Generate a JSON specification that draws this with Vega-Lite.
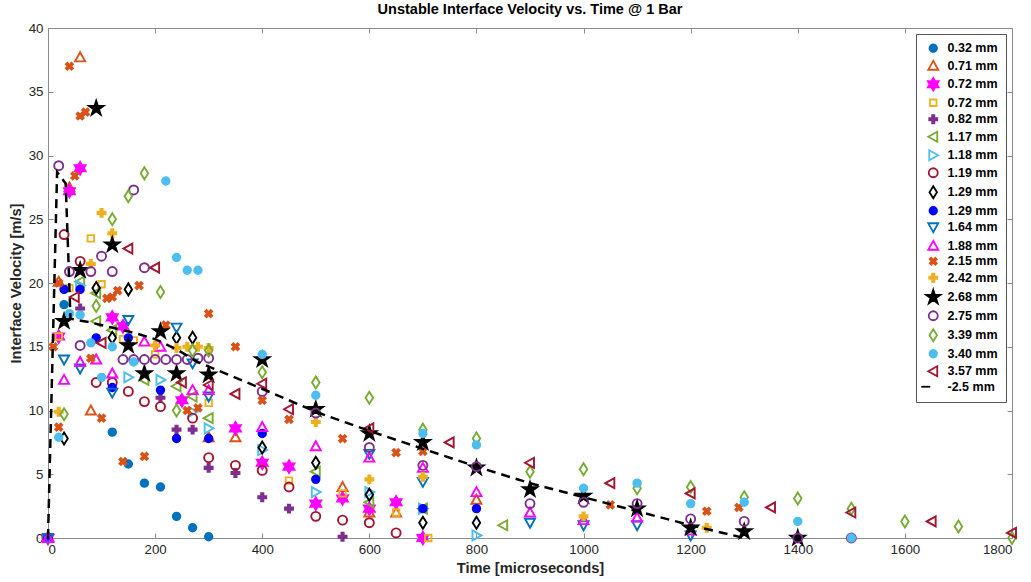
{
  "$schema": "https://vega.github.io/schema/vega-lite/v6.json",
  "width": 964,
  "height": 510,
  "autosize": {"type": "none"},
  "padding": {"left": 48, "top": 28, "right": 19, "bottom": 44},
  "background": "white",
  "title": {"text": "Unstable Interface Velocity vs. Time @ 1 Bar", "fontSize": 14.5, "fontWeight": "bold", "font": "Liberation Sans", "color": "#000000", "offset": 4},
  "datasets": {
    "pts": [
      {"s":"01","t":0,"v":0},{"s":"01","t":30,"v":18.3},{"s":"01","t":120,"v":8.3},{"s":"01","t":150,"v":5.8},{"s":"01","t":180,"v":4.3},{"s":"01","t":210,"v":4.0},{"s":"01","t":240,"v":1.7},{"s":"01","t":270,"v":0.8},{"s":"01","t":300,"v":0.1},
      {"s":"02","t":0,"v":0},{"s":"02","t":20,"v":20.1},{"s":"02","t":40,"v":27.5},{"s":"02","t":60,"v":37.7},{"s":"02","t":80,"v":10.0},{"s":"02","t":300,"v":7.9},{"s":"02","t":350,"v":7.9},{"s":"02","t":550,"v":4.0},{"s":"02","t":600,"v":2.0},{"s":"02","t":650,"v":2.0},{"s":"02","t":800,"v":3.0},
      {"s":"03","t":0,"v":0},{"s":"03","t":20,"v":15.8},{"s":"03","t":40,"v":27.2},{"s":"03","t":60,"v":29.0},{"s":"03","t":120,"v":17.3},{"s":"03","t":140,"v":16.6},{"s":"03","t":250,"v":10.8},{"s":"03","t":350,"v":8.6},{"s":"03","t":400,"v":5.9},{"s":"03","t":450,"v":5.6},{"s":"03","t":500,"v":2.7},{"s":"03","t":550,"v":3.1},{"s":"03","t":600,"v":2.3},{"s":"03","t":650,"v":2.8},{"s":"03","t":700,"v":0},
      {"s":"04","t":20,"v":15.8},{"s":"04","t":40,"v":19.6},{"s":"04","t":80,"v":23.5},{"s":"04","t":100,"v":19.9},{"s":"04","t":140,"v":15.6},{"s":"04","t":160,"v":15.5},{"s":"04","t":200,"v":14.4},{"s":"04","t":300,"v":10.6},{"s":"04","t":450,"v":4.5},{"s":"04","t":550,"v":3.5},{"s":"04","t":650,"v":2.0},{"s":"04","t":710,"v":0},
      {"s":"05","t":0,"v":0},{"s":"05","t":60,"v":18.0},{"s":"05","t":210,"v":11.0},{"s":"05","t":240,"v":8.5},{"s":"05","t":270,"v":8.5},{"s":"05","t":300,"v":5.5},{"s":"05","t":350,"v":5.1},{"s":"05","t":400,"v":3.2},{"s":"05","t":450,"v":2.3},{"s":"05","t":550,"v":0.1},
      {"s":"06","t":60,"v":20.1},{"s":"06","t":90,"v":19.2},{"s":"06","t":90,"v":17.0},{"s":"06","t":120,"v":16.3},{"s":"06","t":180,"v":12.4},{"s":"06","t":240,"v":11.9},{"s":"06","t":270,"v":11.1},{"s":"06","t":300,"v":9.4},{"s":"06","t":500,"v":5.2},{"s":"06","t":600,"v":2.8},{"s":"06","t":700,"v":2.3},{"s":"06","t":850,"v":1.0},
      {"s":"07","t":60,"v":19.8},{"s":"07","t":150,"v":12.6},{"s":"07","t":210,"v":12.4},{"s":"07","t":270,"v":9.9},{"s":"07","t":300,"v":8.6},{"s":"07","t":400,"v":6.9},{"s":"07","t":500,"v":3.6},{"s":"07","t":600,"v":3.6},{"s":"07","t":700,"v":2.3},{"s":"07","t":800,"v":0.2},
      {"s":"08","t":30,"v":23.8},{"s":"08","t":60,"v":21.7},{"s":"08","t":90,"v":12.2},{"s":"08","t":120,"v":12.2},{"s":"08","t":150,"v":11.5},{"s":"08","t":180,"v":10.7},{"s":"08","t":210,"v":10.3},{"s":"08","t":270,"v":9.4},{"s":"08","t":300,"v":6.3},{"s":"08","t":350,"v":5.7},{"s":"08","t":400,"v":5.3},{"s":"08","t":450,"v":4.0},{"s":"08","t":500,"v":1.7},{"s":"08","t":550,"v":1.4},{"s":"08","t":600,"v":1.2},{"s":"08","t":650,"v":0.4},
      {"s":"09","t":30,"v":7.8},{"s":"09","t":90,"v":19.6},{"s":"09","t":120,"v":15.7},{"s":"09","t":150,"v":19.5},{"s":"09","t":240,"v":15.7},{"s":"09","t":270,"v":15.7},{"s":"09","t":400,"v":7.1},{"s":"09","t":500,"v":5.9},{"s":"09","t":600,"v":3.4},{"s":"09","t":700,"v":1.2},{"s":"09","t":800,"v":1.2},
      {"s":"10","t":0,"v":0},{"s":"10","t":30,"v":19.5},{"s":"10","t":60,"v":19.5},{"s":"10","t":90,"v":15.7},{"s":"10","t":120,"v":11.8},{"s":"10","t":150,"v":15.7},{"s":"10","t":210,"v":11.6},{"s":"10","t":240,"v":7.8},{"s":"10","t":300,"v":7.8},{"s":"10","t":400,"v":8.2},{"s":"10","t":500,"v":4.6},{"s":"10","t":700,"v":2.3},{"s":"10","t":800,"v":2.3},
      {"s":"11","t":0,"v":0},{"s":"11","t":30,"v":14.0},{"s":"11","t":60,"v":13.3},{"s":"11","t":120,"v":11.4},{"s":"11","t":150,"v":17.1},{"s":"11","t":240,"v":16.5},{"s":"11","t":270,"v":13.7},{"s":"11","t":300,"v":11.1},{"s":"11","t":600,"v":6.6},{"s":"11","t":700,"v":4.4},{"s":"11","t":900,"v":1.2},{"s":"11","t":1000,"v":1.0},{"s":"11","t":1100,"v":1.0},{"s":"11","t":1200,"v":0.2},
      {"s":"12","t":0,"v":0},{"s":"12","t":30,"v":12.4},{"s":"12","t":60,"v":13.8},{"s":"12","t":90,"v":14.0},{"s":"12","t":120,"v":12.9},{"s":"12","t":180,"v":15.4},{"s":"12","t":210,"v":15.0},{"s":"12","t":270,"v":11.6},{"s":"12","t":300,"v":11.6},{"s":"12","t":400,"v":8.7},{"s":"12","t":500,"v":7.2},{"s":"12","t":600,"v":6.3},{"s":"12","t":700,"v":5.5},{"s":"12","t":800,"v":3.6},{"s":"12","t":900,"v":2.0},{"s":"12","t":1000,"v":1.4},{"s":"12","t":1100,"v":1.6},{"s":"12","t":1200,"v":0.6},
      {"s":"13","t":10,"v":15.0},{"s":"13","t":20,"v":20.0},{"s":"13","t":20,"v":8.7},{"s":"13","t":40,"v":37.0},{"s":"13","t":50,"v":28.4},{"s":"13","t":60,"v":33.1},{"s":"13","t":70,"v":33.4},{"s":"13","t":80,"v":14.1},{"s":"13","t":100,"v":9.4},{"s":"13","t":110,"v":18.8},{"s":"13","t":120,"v":18.9},{"s":"13","t":130,"v":19.4},{"s":"13","t":140,"v":6.0},{"s":"13","t":170,"v":19.8},{"s":"13","t":180,"v":6.4},{"s":"13","t":220,"v":16.7},{"s":"13","t":260,"v":10.0},{"s":"13","t":280,"v":10.2},{"s":"13","t":300,"v":17.6},{"s":"13","t":350,"v":15.0},{"s":"13","t":400,"v":10.8},{"s":"13","t":450,"v":9.3},{"s":"13","t":550,"v":7.8},{"s":"13","t":650,"v":6.7},{"s":"13","t":700,"v":6.8},{"s":"13","t":1050,"v":2.6},{"s":"13","t":1230,"v":2.1},{"s":"13","t":1290,"v":2.4},
      {"s":"14","t":20,"v":9.9},{"s":"14","t":80,"v":21.5},{"s":"14","t":100,"v":25.5},{"s":"14","t":120,"v":23.9},{"s":"14","t":200,"v":15.1},{"s":"14","t":240,"v":14.9},{"s":"14","t":260,"v":15.0},{"s":"14","t":280,"v":15.0},{"s":"14","t":300,"v":14.9},{"s":"14","t":500,"v":9.1},{"s":"14","t":600,"v":4.6},{"s":"14","t":700,"v":4.8},{"s":"14","t":1000,"v":1.7},{"s":"14","t":1230,"v":0.8},
      {"s":"15","t":30,"v":17.0},{"s":"15","t":60,"v":21.0},{"s":"15","t":90,"v":33.7},{"s":"15","t":120,"v":23.0},{"s":"15","t":150,"v":15.1},{"s":"15","t":180,"v":12.9},{"s":"15","t":210,"v":16.2},{"s":"15","t":240,"v":12.9},{"s":"15","t":300,"v":12.8},{"s":"15","t":400,"v":14.0},{"s":"15","t":500,"v":10.1},{"s":"15","t":600,"v":8.2},{"s":"15","t":700,"v":7.5},{"s":"15","t":800,"v":5.5},{"s":"15","t":900,"v":3.8},{"s":"15","t":1000,"v":3.3},{"s":"15","t":1100,"v":2.3},{"s":"15","t":1200,"v":0.8},{"s":"15","t":1300,"v":0.5},{"s":"15","t":1400,"v":0},
      {"s":"16","t":20,"v":29.2},{"s":"16","t":40,"v":20.9},{"s":"16","t":60,"v":15.1},{"s":"16","t":80,"v":20.9},{"s":"16","t":100,"v":22.1},{"s":"16","t":120,"v":20.9},{"s":"16","t":140,"v":14.0},{"s":"16","t":160,"v":14.0},{"s":"16","t":160,"v":27.3},{"s":"16","t":180,"v":21.2},{"s":"16","t":180,"v":14.0},{"s":"16","t":200,"v":14.0},{"s":"16","t":220,"v":14.0},{"s":"16","t":240,"v":14.0},{"s":"16","t":260,"v":14.0},{"s":"16","t":280,"v":14.1},{"s":"16","t":300,"v":14.1},{"s":"16","t":400,"v":11.5},{"s":"16","t":500,"v":9.8},{"s":"16","t":600,"v":7.1},{"s":"16","t":700,"v":5.7},{"s":"16","t":800,"v":5.6},{"s":"16","t":900,"v":2.7},{"s":"16","t":1000,"v":2.8},{"s":"16","t":1100,"v":2.7},{"s":"16","t":1200,"v":1.5},{"s":"16","t":1300,"v":1.3},{"s":"16","t":1400,"v":0},{"s":"16","t":1500,"v":0},
      {"s":"17","t":30,"v":9.7},{"s":"17","t":90,"v":18.2},{"s":"17","t":120,"v":25.0},{"s":"17","t":150,"v":26.8},{"s":"17","t":180,"v":28.6},{"s":"17","t":210,"v":19.3},{"s":"17","t":240,"v":10.0},{"s":"17","t":270,"v":14.7},{"s":"17","t":300,"v":14.7},{"s":"17","t":400,"v":13.0},{"s":"17","t":500,"v":12.2},{"s":"17","t":600,"v":11.0},{"s":"17","t":700,"v":8.5},{"s":"17","t":800,"v":7.8},{"s":"17","t":900,"v":5.2},{"s":"17","t":1000,"v":5.4},{"s":"17","t":1100,"v":3.9},{"s":"17","t":1200,"v":4.0},{"s":"17","t":1300,"v":3.2},{"s":"17","t":1400,"v":3.1},{"s":"17","t":1500,"v":2.3},{"s":"17","t":1600,"v":1.3},{"s":"17","t":1700,"v":0.9},{"s":"17","t":1800,"v":0},
      {"s":"18","t":20,"v":7.9},{"s":"18","t":40,"v":17.6},{"s":"18","t":60,"v":17.5},{"s":"18","t":80,"v":15.3},{"s":"18","t":100,"v":12.6},{"s":"18","t":120,"v":15.0},{"s":"18","t":160,"v":13.8},{"s":"18","t":220,"v":28.0},{"s":"18","t":240,"v":22.0},{"s":"18","t":260,"v":21.0},{"s":"18","t":280,"v":21.0},{"s":"18","t":400,"v":14.4},{"s":"18","t":500,"v":11.2},{"s":"18","t":700,"v":8.2},{"s":"18","t":800,"v":7.3},{"s":"18","t":1000,"v":3.9},{"s":"18","t":1100,"v":4.3},{"s":"18","t":1200,"v":2.7},{"s":"18","t":1300,"v":2.8},{"s":"18","t":1400,"v":1.3},{"s":"18","t":1500,"v":0},
      {"s":"19","t":50,"v":18.9},{"s":"19","t":100,"v":15.3},{"s":"19","t":150,"v":22.7},{"s":"19","t":200,"v":21.2},{"s":"19","t":250,"v":12.2},{"s":"19","t":300,"v":12.0},{"s":"19","t":350,"v":11.3},{"s":"19","t":400,"v":12.1},{"s":"19","t":450,"v":10.1},{"s":"19","t":600,"v":8.6},{"s":"19","t":750,"v":7.5},{"s":"19","t":900,"v":5.9},{"s":"19","t":1050,"v":4.3},{"s":"19","t":1200,"v":3.5},{"s":"19","t":1350,"v":2.4},{"s":"19","t":1500,"v":2.0},{"s":"19","t":1650,"v":1.3},{"s":"19","t":1800,"v":0.4}
    ],
    "ln": [
      {"t":0,"v":0},{"t":17,"v":28.7},{"t":33,"v":27.8},{"t":38,"v":22.0},{"t":42,"v":17.2},{"t":80,"v":16.9},{"t":120,"v":16.5},{"t":160,"v":16.1},{"t":200,"v":15.6},{"t":240,"v":14.8},{"t":280,"v":13.8},{"t":400,"v":11.7},{"t":500,"v":9.9},{"t":600,"v":8.4},{"t":700,"v":7.0},{"t":800,"v":5.6},{"t":900,"v":4.3},{"t":1000,"v":3.2},{"t":1100,"v":2.1},{"t":1200,"v":1.0},{"t":1300,"v":0}
    ]
  },
  "layer": [
    {
      "data": {"name": "pts"},
      "mark": {"type": "point", "size": 100, "strokeWidth": 1.9, "opacity": 1},
      "encoding": {
        "x": {"field": "t", "type": "quantitative", "scale": {"domain": [0, 1800], "nice": false, "zero": false},
              "axis": {"orient": "bottom", "values": [0,200,400,600,800,1000,1200,1400,1600,1800], "format": "d", "tickSize": -5, "labelPadding": 9, "title": "Time [microseconds]", "titlePadding": 5}},
        "y": {"field": "v", "type": "quantitative", "scale": {"domain": [0, 40], "nice": false},
              "axis": {"orient": "left", "values": [0,5,10,15,20,25,30,35,40], "tickSize": -5, "labelPadding": 10, "title": "Interface Velocity [m/s]", "titlePadding": 5}},
        "stroke": {"field": "s", "type": "nominal",
          "scale": {"domain": ["01","02","03","04","05","06","07","08","09","10","11","12","13","14","15","16","17","18","19","20"],
                    "range": ["#0072BD","#D95319","#FF00FF","#EDB120","#7E2F8E","#77AC30","#4DBEEE","#A2142F","#000000","#0000FF","#0072BD","#FF00FF","#D95319","#EDB120","#000000","#7E2F8E","#77AC30","#4DBEEE","#A2142F","#000000"]},
          "legend": {"title": null, "orient": "none", "legendX": 868, "legendY": 6, "labelExpr": "['0.32 mm','0.71 mm','0.72 mm','0.72 mm','0.82 mm','1.17 mm','1.18 mm','1.19 mm','1.29 mm','1.29 mm','1.64 mm','1.88 mm','2.15 mm','2.42 mm','2.68 mm','2.75 mm','3.39 mm','3.40 mm','3.57 mm','-2.5 mm'][toNumber(datum.label)-1]"}},
        "fill": {"field": "s", "type": "nominal",
          "scale": {"domain": ["01","02","03","04","05","06","07","08","09","10","11","12","13","14","15","16","17","18","19","20"],
                    "range": ["#0072BD","transparent","#FF00FF","transparent","#7E2F8E","transparent","transparent","transparent","transparent","#0000FF","transparent","transparent","#D95319","#EDB120","#000000","transparent","transparent","#4DBEEE","transparent","transparent"]},
          "legend": {"title": null, "orient": "none", "legendX": 868, "legendY": 6, "labelExpr": "['0.32 mm','0.71 mm','0.72 mm','0.72 mm','0.82 mm','1.17 mm','1.18 mm','1.19 mm','1.29 mm','1.29 mm','1.64 mm','1.88 mm','2.15 mm','2.42 mm','2.68 mm','2.75 mm','3.39 mm','3.40 mm','3.57 mm','-2.5 mm'][toNumber(datum.label)-1]"}},
        "shape": {"field": "s", "type": "nominal",
          "scale": {"domain": ["01","02","03","04","05","06","07","08","09","10","11","12","13","14","15","16","17","18","19","20"],
                    "range": [
                      "M-0.75,0A0.75,0.75,0,1,0,0.75,0A0.75,0.75,0,1,0,-0.75,0Z",
                      "M0,-1L1,0.8L-1,0.8Z",
                      "M0,-1.25L0.361,-0.625L1.083,-0.625L0.722,0L1.083,0.625L0.361,0.625L0,1.25L-0.361,0.625L-1.083,0.625L-0.722,0L-1.083,-0.625L-0.361,-0.625Z",
                      "M-0.65,-0.65L0.65,-0.65L0.65,0.65L-0.65,0.65Z",
                      "M-0.22,-0.8L0.22,-0.8L0.22,-0.22L0.8,-0.22L0.8,0.22L0.22,0.22L0.22,0.8L-0.22,0.8L-0.22,0.22L-0.8,0.22L-0.8,-0.22L-0.22,-0.22Z",
                      "M-1,0L0.8,-1L0.8,1Z",
                      "M1,0L-0.8,-1L-0.8,1Z",
                      "M-0.9,0A0.9,0.9,0,1,0,0.9,0A0.9,0.9,0,1,0,-0.9,0Z",
                      "M0,-1.2L0.75,0L0,1.2L-0.75,0Z",
                      "M-0.75,0A0.75,0.75,0,1,0,0.75,0A0.75,0.75,0,1,0,-0.75,0Z",
                      "M0,1L1,-0.8L-1,-0.8Z",
                      "M0,-1L1,0.8L-1,0.8Z",
                      "M-0.7,-0.42L-0.42,-0.7L0,-0.28L0.42,-0.7L0.7,-0.42L0.28,0L0.7,0.42L0.42,0.7L0,0.28L-0.42,0.7L-0.7,0.42L-0.28,0Z",
                      "M-0.22,-0.8L0.22,-0.8L0.22,-0.22L0.8,-0.22L0.8,0.22L0.22,0.22L0.22,0.8L-0.22,0.8L-0.22,0.22L-0.8,0.22L-0.8,-0.22L-0.22,-0.22Z",
                      "M0,-1.5L0.337,-0.464L1.427,-0.464L0.545,0.177L0.882,1.214L0,0.573L-0.882,1.214L-0.545,0.177L-1.427,-0.464L-0.337,-0.464Z",
                      "M-0.9,0A0.9,0.9,0,1,0,0.9,0A0.9,0.9,0,1,0,-0.9,0Z",
                      "M0,-1.2L0.75,0L0,1.2L-0.75,0Z",
                      "M-0.75,0A0.75,0.75,0,1,0,0.75,0A0.75,0.75,0,1,0,-0.75,0Z",
                      "M-1,0L0.8,-1L0.8,1Z",
                      "M-2.4,0L-0.6,0"
                    ]},
          "legend": {"title": null, "orient": "none", "legendX": 868, "legendY": 6, "labelExpr": "['0.32 mm','0.71 mm','0.72 mm','0.72 mm','0.82 mm','1.17 mm','1.18 mm','1.19 mm','1.29 mm','1.29 mm','1.64 mm','1.88 mm','2.15 mm','2.42 mm','2.68 mm','2.75 mm','3.39 mm','3.40 mm','3.57 mm','-2.5 mm'][toNumber(datum.label)-1]"}}
      }
    },
    {
      "data": {"name": "ln"},
      "mark": {"type": "line", "color": "#000000", "strokeWidth": 2.5, "strokeDash": [9, 6], "interpolate": "linear"},
      "encoding": {
        "x": {"field": "t", "type": "quantitative", "axis": {"orient": "top", "values": [0,200,400,600,800,1000,1200,1400,1600,1800], "tickSize": -5, "labels": false, "title": null}},
        "y": {"field": "v", "type": "quantitative", "axis": {"orient": "right", "values": [0,5,10,15,20,25,30,35,40], "tickSize": -5, "labels": false, "title": null}}
      }
    }
  ],
  "resolve": {"axis": {"x": "independent", "y": "independent"}},
  "config": {
    "view": {"stroke": "#8c8c8c", "strokeWidth": 1},
    "font": "Liberation Sans",
    "axis": {"grid": false, "domainColor": "#8c8c8c", "tickColor": "#8c8c8c", "labelFont": "Liberation Sans", "labelFontSize": 13.3, "labelColor": "#262626", "titleFont": "Liberation Sans", "titleFontSize": 14.7, "titleFontWeight": "bold", "titleColor": "#262626"},
    "legend": {"strokeColor": "#555555", "fillColor": "#ffffff", "padding": 8, "labelFont": "Liberation Sans", "labelFontSize": 12.5, "labelFontWeight": "bold", "labelColor": "#000000", "symbolSize": 100, "symbolStrokeWidth": 1.8, "rowPadding": 0.5, "labelOffset": 8, "symbolLimit": 30, "symbolOffset": 3}
  }
}
